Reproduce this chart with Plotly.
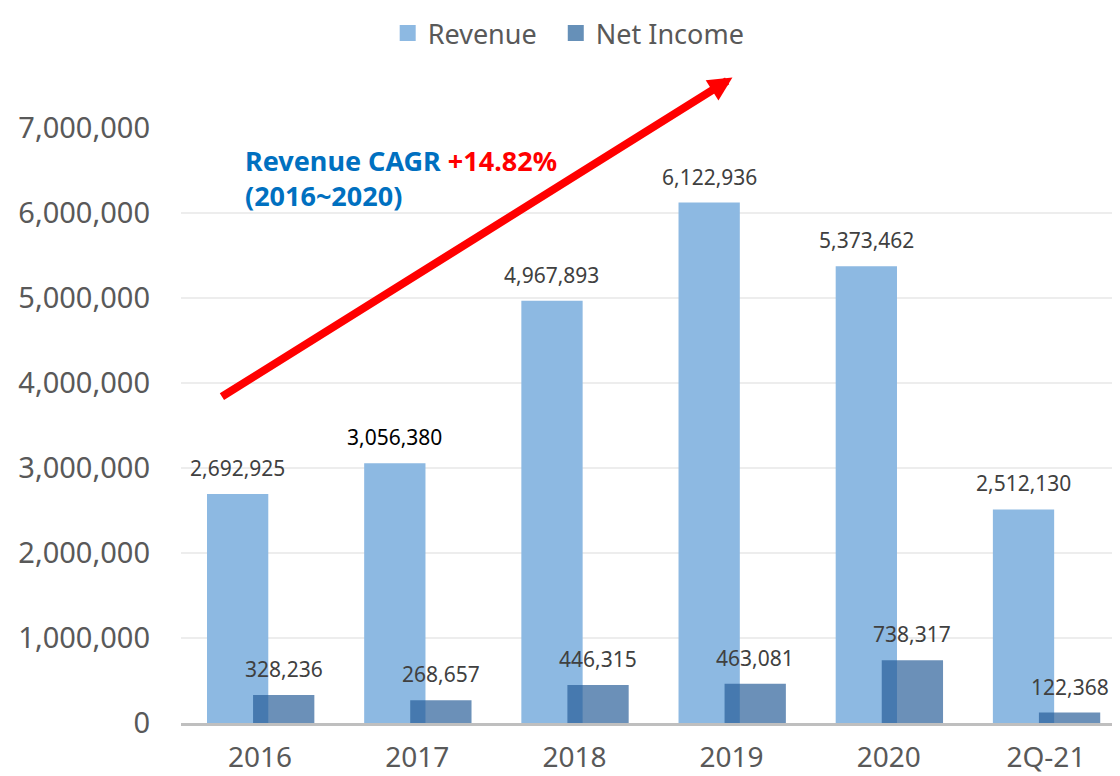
import plotly.graph_objects as go

categories = ["2016", "2017", "2018", "2019", "2020", "2Q-21"]
revenue = [2692925, 3056380, 4967893, 6122936, 5373462, 2512130]
net_income = [328236, 268657, 446315, 463081, 738317, 122368]
y_ticks = [0, 1000000, 2000000, 3000000, 4000000, 5000000, 6000000, 7000000]
rev_label_colors = ["#404040", "#000000", "#404040", "#404040", "#404040", "#404040"]

FONT = "Noto Sans"
REV_COLOR = "#8DB9E2"
NI_COLOR = "rgba(37,92,150,0.68)"
NI_LEGEND_COLOR = "#6690B8"
REV_OFF, REV_W = -0.3376, 0.39
NI_OFF, NI_W = -0.0446, 0.39

fig = go.Figure()
fig.add_trace(go.Bar(
    x=categories, y=revenue, name="Revenue", showlegend=False,
    marker=dict(color=REV_COLOR, line=dict(width=0)),
    offset=REV_OFF, width=REV_W,
))
fig.add_trace(go.Bar(
    x=categories, y=net_income, name="Net Income", showlegend=False,
    marker=dict(color=NI_COLOR, line=dict(width=0)),
    offset=NI_OFF, width=NI_W,
))
# legend entries (square swatches)
fig.add_trace(go.Scatter(
    x=[None], y=[None], mode="markers", name="Revenue\u00a0\u00a0",
    marker=dict(symbol="square", size=18, color=REV_COLOR),
))
fig.add_trace(go.Scatter(
    x=[None], y=[None], mode="markers", name="Net Income",
    marker=dict(symbol="square", size=18, color=NI_LEGEND_COLOR),
))

annotations = []
for i, v in enumerate(revenue):
    annotations.append(dict(
        x=i + REV_OFF + REV_W / 2, y=v, xref="x", yref="y",
        text=f"{v:,}", showarrow=False, yanchor="middle", yshift=26,
        font=dict(family=FONT, size=21, color=rev_label_colors[i]),
    ))
for i, v in enumerate(net_income):
    annotations.append(dict(
        x=i + NI_OFF + NI_W / 2, y=v, xref="x", yref="y",
        text=f"{v:,}", showarrow=False, yanchor="middle", yshift=26,
        font=dict(family=FONT, size=21, color="#404040"),
    ))

# CAGR arrow
annotations.append(dict(
    x=0.586, y=1.0847, xref="paper", yref="paper",
    ax=-512, ay=320, axref="pixel", ayref="pixel",
    showarrow=True, arrowhead=2, arrowsize=0.6, arrowwidth=8,
    arrowcolor="#FF0000", text="",
))
annotations.append(dict(
    x=0.0655, y=0.980, xref="paper", yref="paper",
    xanchor="left", yanchor="top", align="left", showarrow=False,
    text="<b>Revenue CAGR <span style='color:#FF0000'>+14.82%</span><br>(2016~2020)</b>",
    font=dict(family=FONT, size=27, color="#0070C0"),
))

fig.update_layout(
    width=1120, height=776,
    margin=dict(l=172.5, r=5.5, t=120, b=61, autoexpand=False),
    paper_bgcolor="white", plot_bgcolor="white",
    barmode="overlay",
    showlegend=True,
    legend=dict(
        orientation="h", x=0.412, y=1.2, xanchor="center", yanchor="top",
        font=dict(family=FONT, size=27, color="#595959"),
        bgcolor="rgba(0,0,0,0)",
    ),
    annotations=annotations,
    font=dict(family=FONT, color="#595959"),
)
fig.update_xaxes(
    type="category", range=[-0.503, 5.484], automargin=False,
    showline=True, linecolor="#BFBFBF", linewidth=2.5,
    showgrid=False, ticks="", ticklabelstandoff=8,
    tickfont=dict(family=FONT, size=28, color="#595959"),
)
fig.update_yaxes(
    range=[0, 7000000], tickvals=y_ticks, automargin=False,
    ticktext=[f"{t:,}" for t in y_ticks],
    showgrid=True, gridcolor="#EDEDED", gridwidth=1.5,
    zeroline=False, showline=False, ticks="", ticklabelstandoff=30,
    tickfont=dict(family=FONT, size=29, color="#595959"),
)
fig.write_html("out.html")
